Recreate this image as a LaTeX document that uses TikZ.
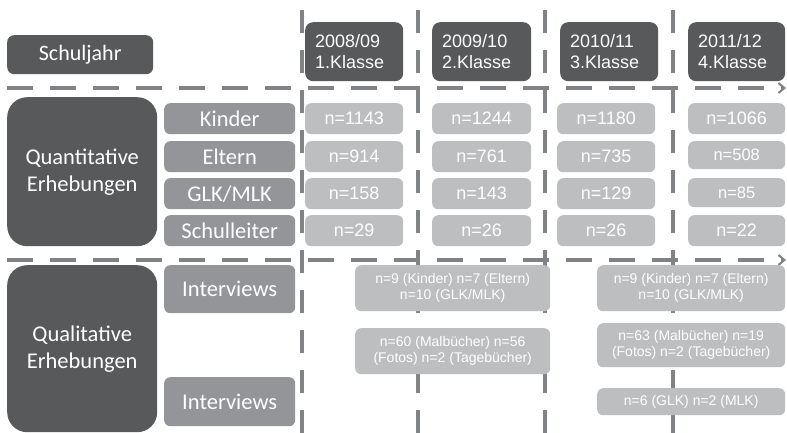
\documentclass[tikz,border=0pt]{standalone}
\usepackage{fontspec}
\newfontfamily\calfont{Carlito}
\newfontfamily\arifont{Liberation Sans}
\usetikzlibrary{arrows.meta}
\definecolor{darkbox}{HTML}{58595B}
\definecolor{midbox}{HTML}{939598}
\definecolor{lightbox}{HTML}{BCBEC0}
\definecolor{gridgray}{HTML}{808285}
\tikzset{
  darkcell/.style={fill=darkbox, draw=none, rounded corners=7pt, text=white, anchor=north west, inner sep=0pt},
  bigcell/.style={fill=darkbox, draw=none, rounded corners=20pt, text=white, anchor=north west, inner sep=0pt, align=center, font=\calfont\fontsize{22.5}{27}\selectfont},
  labelcell/.style={fill=midbox, draw=none, rounded corners=6pt, text=white, anchor=north west, inner sep=0pt, font=\calfont\fontsize{22.5}{26}\selectfont},
  valcell/.style={fill=lightbox, draw=none, rounded corners=6pt, text=white, anchor=north west, inner sep=0pt, font=\arifont\fontsize{18}{21}\selectfont},
  notecell/.style={fill=lightbox, draw=none, rounded corners=6pt, text=white, anchor=north west, inner sep=0pt, align=center, font=\arifont\fontsize{14}{16}\selectfont},
  yearcell/.style={fill=darkbox, draw=none, rounded corners=8pt, text=white, anchor=north west, inner sep=0pt, align=left, font=\arifont\fontsize{18}{21}\selectfont},
  vgrid/.style={draw=gridgray, line width=4pt, dash pattern=on 23pt off 17pt},
  hgrid/.style={draw=gridgray, line width=4pt, dash pattern=on 26pt off 17pt, -{Straight Barb[length=6pt,width=10pt,line width=2pt]}},
}
\begin{document}
\begin{tikzpicture}[x=1pt,y=-1pt]
\useasboundingbox (0,0) rectangle (787,433);
% grid coordinates
\coordinate (v1t) at (302,10); \coordinate (v1b) at (302,433);
\coordinate (v2t) at (418,10); \coordinate (v2b) at (418,433);
\coordinate (v3t) at (545,10); \coordinate (v3b) at (545,433);
\coordinate (v4t) at (673,10); \coordinate (v4b) at (673,433);
\coordinate (h1l) at (7,88); \coordinate (h1r) at (786,88);
\coordinate (h2l) at (7,260); \coordinate (h2r) at (786,260);
\draw[vgrid] (v1t) -- (v1b);
\draw[vgrid] (v2t) -- (v2b);
\draw[vgrid] (v3t) -- (v3b);
\draw[vgrid] (v4t) -- (v4b);
\draw[hgrid] (h1l) -- (h1r);
\draw[hgrid] (h2l) -- (h2r);
% header
\node[darkcell, minimum width=146pt, minimum height=39pt, font=\calfont\fontsize{22}{25}\selectfont] (sj) at (7,35) {Schuljahr};
\node[yearcell, minimum width=98pt, minimum height=59pt, text width=78pt] (y1) at (305,22) {2008/09\\1.Klasse};
\node[yearcell, minimum width=99pt, minimum height=59pt, text width=79pt] (y2) at (432,22) {2009/10\\2.Klasse};
\node[yearcell, minimum width=98pt, minimum height=59pt, text width=78pt] (y3) at (560,22) {2010/11\\3.Klasse};
\node[yearcell, minimum width=97pt, minimum height=59pt, text width=77pt] (y4) at (688,22) {2011/12\\4.Klasse};
% quantitative
\node[bigcell, minimum width=150pt, minimum height=149pt] (quant) at (7,97) {Quantitative\\Erhebungen};
\node[labelcell, minimum width=131pt, minimum height=31pt] (lk) at (164,103) {Kinder};
\node[labelcell, minimum width=131pt, minimum height=31pt] (le) at (164,141) {Eltern};
\node[labelcell, minimum width=131pt, minimum height=31pt] (lg) at (164,178) {GLK/MLK};
\node[labelcell, minimum width=131pt, minimum height=31pt] (ls) at (164,215) {Schulleiter};
% values col 1
\node[valcell, minimum width=98pt, minimum height=31pt] (k1) at (305,103) {n=1143};
\node[valcell, minimum width=98pt, minimum height=31pt] (e1) at (305,141) {n=914};
\node[valcell, minimum width=98pt, minimum height=31pt] (g1) at (305,178) {n=158};
\node[valcell, minimum width=98pt, minimum height=31pt] (s1) at (305,215) {n=29};
% col 2
\node[valcell, minimum width=99pt, minimum height=31pt] (k2) at (432,103) {n=1244};
\node[valcell, minimum width=99pt, minimum height=31pt] (e2) at (432,141) {n=761};
\node[valcell, minimum width=99pt, minimum height=31pt] (g2) at (432,178) {n=143};
\node[valcell, minimum width=99pt, minimum height=31pt] (s2) at (432,215) {n=26};
% col 3
\node[valcell, minimum width=98pt, minimum height=31pt] (k3) at (557,103) {n=1180};
\node[valcell, minimum width=98pt, minimum height=31pt] (e3) at (557,141) {n=735};
\node[valcell, minimum width=98pt, minimum height=31pt] (g3) at (557,178) {n=129};
\node[valcell, minimum width=98pt, minimum height=31pt] (s3) at (557,215) {n=26};
% col 4
\node[valcell, minimum width=97pt, minimum height=31pt] (k4) at (688,103) {n=1066};
\node[valcell, minimum width=97pt, minimum height=28pt, font=\arifont\fontsize{16.5}{20}\selectfont] (e4) at (688,141) {n=508};
\node[valcell, minimum width=97pt, minimum height=29pt, font=\arifont\fontsize{16.5}{20}\selectfont] (g4) at (688,178) {n=85};
\node[valcell, minimum width=97pt, minimum height=31pt] (s4) at (688,215) {n=22};
% qualitative
\node[bigcell, minimum width=150pt, minimum height=167pt] (qual) at (7,265) {Qualitative\\Erhebungen};
\node[labelcell, minimum width=131pt, minimum height=48pt] (li1) at (164,265) {Interviews};
\node[labelcell, minimum width=131pt, minimum height=49pt] (li2) at (164,377) {Interviews};
\node[notecell, minimum width=195pt, minimum height=46pt] (qa) at (355,265) {n=9 (Kinder) n=7 (Eltern)\\n=10 (GLK/MLK)};
\node[notecell, minimum width=195pt, minimum height=46pt] (qb) at (355,328) {n=60 (Malbücher) n=56\\(Fotos) n=2 (Tagebücher)};
\node[notecell, minimum width=188pt, minimum height=46pt] (qc) at (597,265) {n=9 (Kinder) n=7 (Eltern)\\n=10 (GLK/MLK)};
\node[notecell, minimum width=188pt, minimum height=44pt] (qd) at (597,323) {n=63 (Malbücher) n=19\\(Fotos) n=2 (Tagebücher)};
\node[notecell, minimum width=188pt, minimum height=27pt] (qe) at (597,388) {n=6 (GLK) n=2 (MLK)};
\end{tikzpicture}
\end{document}
